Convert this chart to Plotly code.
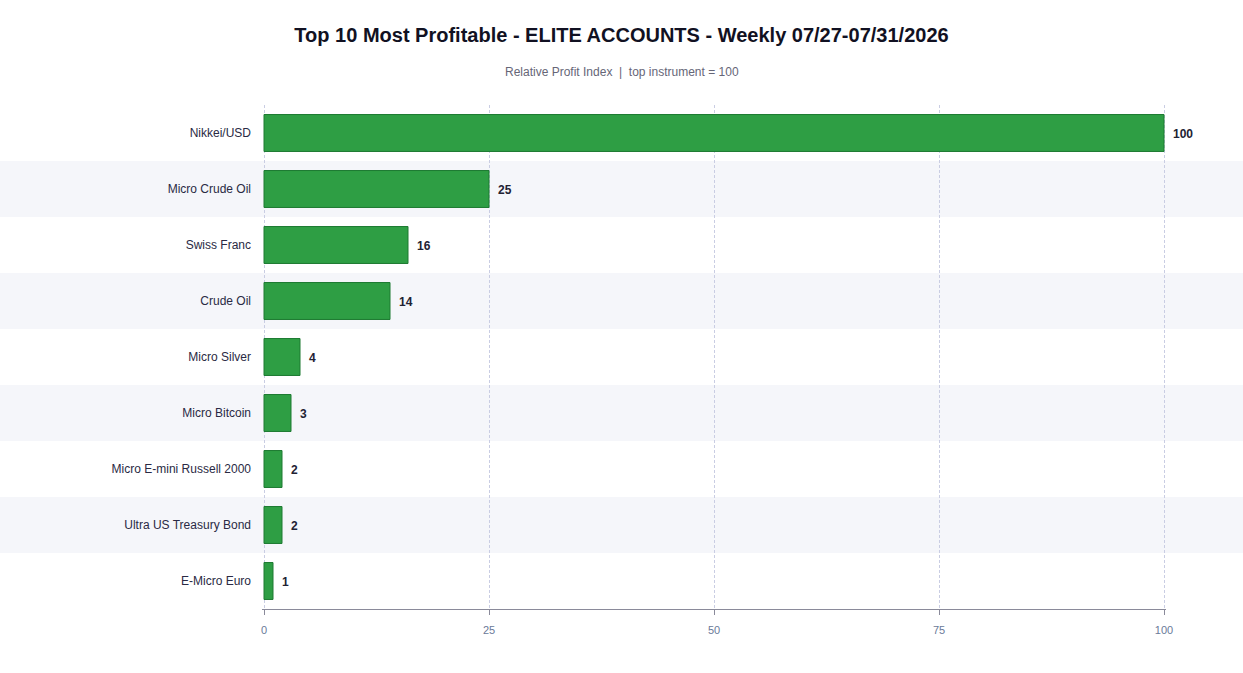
import plotly.graph_objects as go

instruments = ["Nikkei/USD", "Micro Crude Oil", "Swiss Franc", "Crude Oil", "Micro Silver",
               "Micro Bitcoin", "Micro E-mini Russell 2000", "Ultra US Treasury Bond", "E-Micro Euro"]
values = [100, 25, 16, 14, 4, 3, 2, 2, 1]
labels = [str(v) for v in values]

W, H = 1243, 673
L, R, T, B = 262, 77, 105, 64
pw = W - L - R
ph = H - T - B
pad = 2 * 100 / 900  # 2px of padding in data units so edge gridlines are drawn
FONT = "Liberation Sans, Arial"

fig = go.Figure()
fig.add_trace(go.Bar(
    y=instruments, x=values, orientation="h",
    marker=dict(color="#2e9e44", line=dict(color="#1d7a31", width=1)),
    width=0.66,
    hoverinfo="skip",
))

shapes = []
for i, name in enumerate(instruments):
    if i % 2 == 1:
        shapes.append(dict(type="rect", xref="paper", yref="y",
                           x0=-L / pw, x1=1 + R / pw, y0=i - 0.5, y1=i + 0.5,
                           fillcolor="#f5f6fa", line=dict(width=0), layer="below"))

annotations = [dict(text="Relative Profit Index  |  top instrument = 100", xref="paper", yref="paper",
                    x=(W / 2 - L) / pw, y=1 + (T - 72) / ph, xanchor="center", yanchor="middle",
                    showarrow=False, font=dict(family=FONT, size=12, color="#666677"))]
for name, v, lab in zip(instruments, values, labels):
    annotations.append(dict(text="<b>" + lab + "</b>", x=v, y=name, xref="x", yref="y",
                            xanchor="left", yanchor="middle", xshift=7, yshift=-1, showarrow=False,
                            font=dict(family=FONT, size=12, color="#222233")))

fig.update_layout(
    width=W, height=H,
    margin=dict(l=L, r=R, t=T, b=B),
    paper_bgcolor="white", plot_bgcolor="rgba(0,0,0,0)",
    title=dict(text="<b>Top 10 Most Profitable - ELITE ACCOUNTS - Weekly 07/27-07/31/2026</b>",
               x=0.5, xanchor="center", y=1 - 35 / H, yanchor="middle",
               font=dict(family=FONT, size=20, color="#111122")),
    annotations=annotations,
    shapes=shapes,
    showlegend=False,
    xaxis=dict(range=[0 - pad, 100 + pad], tickvals=[0, 25, 50, 75, 100], showgrid=True,
               gridcolor="#c9cde3", griddash="3px,2px", gridwidth=1, zeroline=False,
               showline=True, linecolor="#8a8a9a", linewidth=1, ticks="outside", tickcolor="#8a8a9a",
               ticklen=5, ticklabelstandoff=6, tickfont=dict(family=FONT, size=11, color="#6a7a99"),
               fixedrange=True),
    yaxis=dict(autorange="reversed", showgrid=False, zeroline=False, ticks="", ticklabelstandoff=10,
               tickfont=dict(family=FONT, size=12, color="#2a2a44"), fixedrange=True),
)
fig.write_html("out.html", config={"displayModeBar": False},
               post_script="document.body.style.margin='0';document.body.style.overflow='hidden';")
